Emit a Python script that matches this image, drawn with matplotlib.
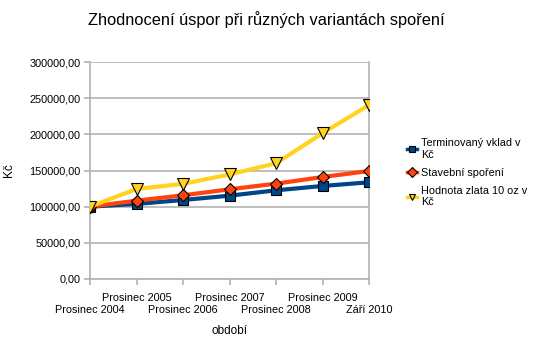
import matplotlib
matplotlib.use("Agg")
from matplotlib import pyplot as plt

plt.rcParams['font.family'] = ['Liberation Sans', 'DejaVu Sans']

# data
obdobi = ["Prosinec 2004", "Prosinec 2005", "Prosinec 2006", "Prosinec 2007",
          "Prosinec 2008", "Prosinec 2009", "Září 2010"]
terminovany = [100000, 103800, 109200, 115200, 122600, 128600, 133700]
stavebni = [100000, 108300, 115700, 124000, 131800, 141000, 149300]
zlato = [100000, 124500, 131500, 144500, 160000, 201500, 240500]

fig = plt.figure(figsize=(5.33, 3.44), dpi=100)
ax = fig.add_axes([90/533, 1-279/344, (369-90)/533, (279-62)/344])

x = list(range(len(obdobi)))
ax.plot(x, terminovany, color="#004586", lw=3, marker="s", ms=7,
        mec="black", mew=0.8, label="Terminovaný vklad v\nKč", zorder=3)
ax.plot(x, stavebni, color="#ff420e", lw=3, marker="D", ms=6,
        mec="black", mew=0.8, label="Stavební spoření", zorder=4)
ax.plot(x, zlato, color="#ffd320", lw=3, marker="v", ms=8,
        mec="black", mew=0.8, label="Hodnota zlata 10 oz v\nKč", zorder=5)

ax.set_xlim(0, len(obdobi)-1)
ax.set_ylim(0, 300000)
ax.set_yticks(range(0, 300001, 50000))
ax.set_yticklabels(["%d,00" % v for v in range(0, 300001, 50000)], fontsize=7.8)

# popisky osy x ve dvou radach: sude nize (major), liche vyse (minor)
sude = x[0::2]
liche = x[1::2]
ax.set_xticks(sude)
ax.set_xticklabels(obdobi[0::2], fontsize=7.8)
ax.set_xticks(liche, minor=True)
ax.set_xticklabels(obdobi[1::2], minor=True, fontsize=7.8)

ax.yaxis.grid(True, color="#b3b3b3", lw=1.2)
ax.set_axisbelow(True)
for s in ["left", "right", "bottom"]:
    ax.spines[s].set_color("#b3b3b3")
    ax.spines[s].set_linewidth(1.2)
ax.spines["top"].set_visible(False)
ax.tick_params(axis="both", which="both", color="#b3b3b3", width=1.2, length=4)
ax.tick_params(axis="y", pad=3)
ax.tick_params(axis="x", which="major", pad=15)
ax.tick_params(axis="x", which="minor", pad=6)

ax.set_xlabel("období", fontsize=8.5, labelpad=7)
ax.set_ylabel("Kč", fontsize=8.5, labelpad=10)
fig.text(0.5, 1-20/344, "Zhodnocení úspor při různých variantách spoření",
         ha="center", va="center", fontsize=11.8)

leg = ax.legend(loc="center left", bbox_to_anchor=(1.12, 0.49), fontsize=7.8,
                frameon=False, handlelength=0.9, handletextpad=0.4,
                labelspacing=0.75, borderaxespad=0)
for h in leg.legend_handles:
    h.set_linewidth(2.5)
    h.set_markersize(5)

fig.savefig("out.png", dpi=100)
